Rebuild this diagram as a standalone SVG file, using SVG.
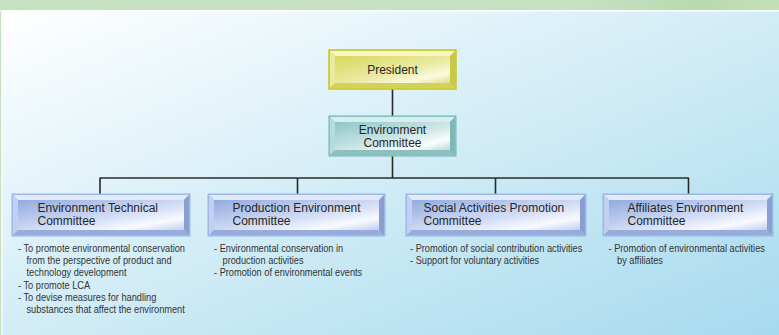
<svg xmlns="http://www.w3.org/2000/svg" width="779" height="335" viewBox="0 0 779 335">
<defs>
<linearGradient id="bg" x1="0" y1="0" x2="1" y2="1">
<stop offset="0" stop-color="#ffffff"/>
<stop offset="0.45" stop-color="#d6eef7"/>
<stop offset="1" stop-color="#a6daee"/>
</linearGradient>
<linearGradient id="band" x1="0" y1="0" x2="1" y2="0">
<stop offset="0" stop-color="#c6e1c2"/>
<stop offset="0.75" stop-color="#c6e1c2"/>
<stop offset="0.9" stop-color="#b9d9ae"/>
<stop offset="1" stop-color="#c4e0b8"/>
</linearGradient>
<linearGradient id="fBlue" x1="0" y1="0" x2="1" y2="1">
<stop offset="0" stop-color="#93abdf"/>
<stop offset="0.55" stop-color="#d2dcf5"/>
<stop offset="0.8" stop-color="#f8faff"/>
<stop offset="1" stop-color="#c0cff0"/>
</linearGradient>
<linearGradient id="fTeal" x1="0" y1="0" x2="1" y2="1">
<stop offset="0" stop-color="#8cc6c6"/>
<stop offset="0.55" stop-color="#cfe6e6"/>
<stop offset="0.8" stop-color="#fbfefe"/>
<stop offset="1" stop-color="#b8dada"/>
</linearGradient>
<linearGradient id="fYel" x1="0" y1="0" x2="1" y2="1">
<stop offset="0" stop-color="#d8d85a"/>
<stop offset="0.55" stop-color="#eaeaa4"/>
<stop offset="0.8" stop-color="#fafae0"/>
<stop offset="1" stop-color="#e0e08a"/>
</linearGradient>
<style>
.t{font-family:"Liberation Sans",Arial,sans-serif;font-size:12px;fill:#262626}
.d{font-family:"Liberation Sans",Arial,sans-serif;font-size:10.5px;fill:#333333}
.ln{stroke:#2a2a2a;stroke-width:1.6;fill:none}
.bBlue .o{fill:#a6bde9;stroke:#96b6e6;stroke-width:1}
.bBlue .bt{fill:#e2eafa}.bBlue .bl{fill:#c2d1f2}.bBlue .br{fill:#8a9fd0}.bBlue .bb{fill:#98acdb}
.bTeal .o{fill:#9ccfcf;stroke:#6db5b5;stroke-width:1}
.bTeal .bt{fill:#d7eeee}.bTeal .bl{fill:#b4dcdc}.bTeal .br{fill:#7fb6b6}.bTeal .bb{fill:#8ebfbf}
.bYel .o{fill:#dede70;stroke:#c6c622;stroke-width:1.5}
.bYel .bt{fill:#f6f6c6}.bYel .bl{fill:#eaea9c}.bYel .br{fill:#c8c84a}.bYel .bb{fill:#d2d25a}
</style>
</defs>
<rect x="0" y="0" width="779" height="11" fill="url(#band)"/>
<rect x="0" y="10" width="779" height="2" fill="#ffffff"/>
<rect x="0" y="11" width="2" height="324" fill="#c6e1c2"/>
<rect x="1.5" y="11.5" width="777.5" height="323.5" fill="url(#bg)"/>
<line x1="2" y1="11" x2="2" y2="335" stroke="#ffffff" stroke-width="1.2"/>

<g id="connectors">
<line class="ln" x1="392.5" y1="89" x2="392.5" y2="116"/>
<line class="ln" x1="392.5" y1="156" x2="392.5" y2="178"/>
<line class="ln" x1="99.5" y1="178" x2="689" y2="178"/>
<line class="ln" x1="100" y1="178" x2="100" y2="194"/>
<line class="ln" x1="297.5" y1="178" x2="297.5" y2="194"/>
<line class="ln" x1="495.5" y1="178" x2="495.5" y2="194"/>
<line class="ln" x1="688.5" y1="178" x2="688.5" y2="194"/>
</g>

<g id="president" class="bYel">
<rect class="o" x="329" y="50" width="127" height="39"/>
<polygon class="bt" points="330,51 455,51 450,56 335,56"/>
<polygon class="bl" points="330,51 335,56 335,83 330,88"/>
<polygon class="br" points="455,51 455,88 450,83 450,56"/>
<polygon class="bb" points="330,88 335,83 450,83 455,88"/>
<rect x="335" y="56" width="115" height="27" fill="url(#fYel)"/>
<text class="t" x="392.5" y="74" text-anchor="middle">President</text>
</g>

<g id="env-committee" class="bTeal">
<rect class="o" x="329" y="116" width="127" height="40"/>
<polygon class="bt" points="330,117 455,117 450,122 335,122"/>
<polygon class="bl" points="330,117 335,122 335,150 330,155"/>
<polygon class="br" points="455,117 455,155 450,150 450,122"/>
<polygon class="bb" points="330,155 335,150 450,150 455,155"/>
<rect x="335" y="122" width="115" height="28" fill="url(#fTeal)"/>
<text class="t" x="392.5" y="133.5" text-anchor="middle">Environment</text>
<text class="t" x="392.5" y="146.5" text-anchor="middle">Committee</text>
</g>

<g id="env-technical" class="bBlue">
<rect class="o" x="12" y="194" width="178" height="42"/>
<polygon class="bt" points="13,195 189,195 184,200 18,200"/>
<polygon class="bl" points="13,195 18,200 18,230 13,235"/>
<polygon class="br" points="189,195 189,235 184,230 184,200"/>
<polygon class="bb" points="13,235 18,230 184,230 189,235"/>
<rect x="18" y="200" width="166" height="30" fill="url(#fBlue)"/>
<text class="t" x="37.5" y="212">Environment Technical</text>
<text class="t" x="37.5" y="225">Committee</text>
<text class="d" transform="translate(18,251.5) scale(0.88,1)">- To promote environmental conservation</text>
<text class="d" transform="translate(26.5,264) scale(0.88,1)">from the perspective of product and</text>
<text class="d" transform="translate(26.5,276.3) scale(0.88,1)">technology development</text>
<text class="d" transform="translate(18,288.6) scale(0.88,1)">- To promote LCA</text>
<text class="d" transform="translate(18,300.9) scale(0.88,1)">- To devise measures for handling</text>
<text class="d" transform="translate(26.5,313.2) scale(0.88,1)">substances that affect the environment</text>
</g>

<g id="production" class="bBlue">
<rect class="o" x="208" y="194" width="177" height="42"/>
<polygon class="bt" points="209,195 384,195 379,200 214,200"/>
<polygon class="bl" points="209,195 214,200 214,230 209,235"/>
<polygon class="br" points="384,195 384,235 379,230 379,200"/>
<polygon class="bb" points="209,235 214,230 379,230 384,235"/>
<rect x="214" y="200" width="165" height="30" fill="url(#fBlue)"/>
<text class="t" x="232.5" y="212">Production Environment</text>
<text class="t" x="232.5" y="225">Committee</text>
<text class="d" transform="translate(214,251.5) scale(0.88,1)">- Environmental conservation in</text>
<text class="d" transform="translate(222.5,264) scale(0.88,1)">production activities</text>
<text class="d" transform="translate(214,276.3) scale(0.88,1)">- Promotion of environmental events</text>
</g>

<g id="social" class="bBlue">
<rect class="o" x="406" y="194" width="180" height="42"/>
<polygon class="bt" points="407,195 585,195 580,200 412,200"/>
<polygon class="bl" points="407,195 412,200 412,230 407,235"/>
<polygon class="br" points="585,195 585,235 580,230 580,200"/>
<polygon class="bb" points="407,235 412,230 580,230 585,235"/>
<rect x="412" y="200" width="168" height="30" fill="url(#fBlue)"/>
<text class="t" x="423.5" y="212">Social Activities Promotion</text>
<text class="t" x="423.5" y="225">Committee</text>
<text class="d" transform="translate(410,251.5) scale(0.88,1)">- Promotion of social contribution activities</text>
<text class="d" transform="translate(410,264) scale(0.88,1)">- Support for voluntary activities</text>
</g>

<g id="affiliates" class="bBlue">
<rect class="o" x="603" y="194" width="170" height="42"/>
<polygon class="bt" points="604,195 772,195 767,200 609,200"/>
<polygon class="bl" points="604,195 609,200 609,230 604,235"/>
<polygon class="br" points="772,195 772,235 767,230 767,200"/>
<polygon class="bb" points="604,235 609,230 767,230 772,235"/>
<rect x="609" y="200" width="158" height="30" fill="url(#fBlue)"/>
<text class="t" x="627.5" y="212">Affiliates Environment</text>
<text class="t" x="627.5" y="225">Committee</text>
<text class="d" transform="translate(608.5,251.5) scale(0.88,1)">- Promotion of environmental activities</text>
<text class="d" transform="translate(617,264) scale(0.88,1)">by affiliates</text>
</g>
</svg>
